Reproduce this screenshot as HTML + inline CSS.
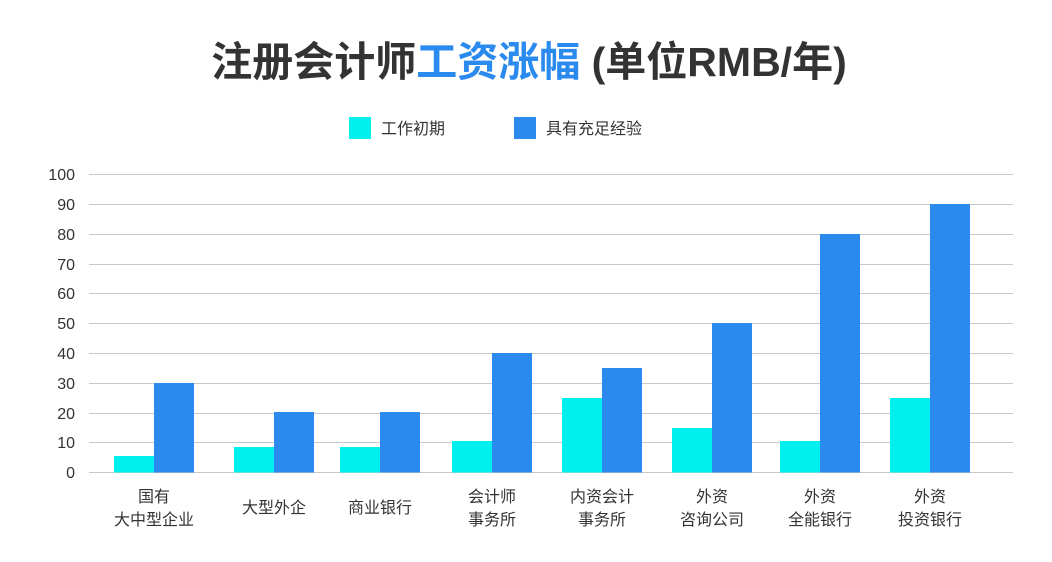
<!DOCTYPE html>
<html><head><meta charset="utf-8"><style>
body{margin:0;background:#fff;width:1052px;height:557px;overflow:hidden}
svg text{font-family:"Liberation Sans","Noto Sans CJK SC",sans-serif}
</style></head><body>
<svg width="1052" height="557" xmlns="http://www.w3.org/2000/svg">
<text x="529" y="76" text-anchor="middle" font-size="41" font-weight="bold" fill="#333"><tspan>注册会计师</tspan><tspan fill="#2b8aed">工资涨幅</tspan><tspan> (单位RMB/年)</tspan></text>
<rect x="349" y="117" width="22" height="22" fill="#00f0f0"/>
<text x="381" y="134" font-size="16" fill="#333">工作初期</text>
<rect x="514" y="117" width="22" height="22" fill="#2b8aed"/>
<text x="546" y="134" font-size="16" fill="#333">具有充足经验</text>
<g stroke="#c8c8c8" stroke-width="1">
<line x1="89" x2="1013" y1="174.5" y2="174.5"/><line x1="89" x2="1013" y1="204.5" y2="204.5"/>
<line x1="89" x2="1013" y1="234.5" y2="234.5"/><line x1="89" x2="1013" y1="264.5" y2="264.5"/>
<line x1="89" x2="1013" y1="293.5" y2="293.5"/><line x1="89" x2="1013" y1="323.5" y2="323.5"/>
<line x1="89" x2="1013" y1="353.5" y2="353.5"/><line x1="89" x2="1013" y1="383.5" y2="383.5"/>
<line x1="89" x2="1013" y1="413.5" y2="413.5"/><line x1="89" x2="1013" y1="442.5" y2="442.5"/>
<line x1="89" x2="1013" y1="472.5" y2="472.5"/>
</g>
<g font-size="16" fill="#333" text-anchor="end">
<text x="75" y="180">100</text><text x="75" y="210">90</text><text x="75" y="240">80</text>
<text x="75" y="270">70</text><text x="75" y="299">60</text><text x="75" y="329">50</text>
<text x="75" y="359">40</text><text x="75" y="389">30</text><text x="75" y="419">20</text>
<text x="75" y="448">10</text><text x="75" y="478">0</text>
</g>
<g fill="#00f0f0">
<rect x="114" y="456" width="40" height="16.5"/>
<rect x="234" y="447" width="40" height="25.5"/>
<rect x="340" y="447" width="40" height="25.5"/>
<rect x="452" y="441" width="40" height="31.5"/>
<rect x="562" y="398" width="40" height="74.5"/>
<rect x="672" y="428" width="40" height="44.5"/>
<rect x="780" y="441" width="40" height="31.5"/>
<rect x="890" y="398" width="40" height="74.5"/>
</g>
<g fill="#2b8aed">
<rect x="154" y="383" width="40" height="89.5"/>
<rect x="274" y="412" width="40" height="60.5"/>
<rect x="380" y="412" width="40" height="60.5"/>
<rect x="492" y="353" width="40" height="119.5"/>
<rect x="602" y="368" width="40" height="104.5"/>
<rect x="712" y="323" width="40" height="149.5"/>
<rect x="820" y="234" width="40" height="238.5"/>
<rect x="930" y="204" width="40" height="268.5"/>
</g>
<g font-size="16" fill="#333" text-anchor="middle">
<text x="154" y="502">国有</text><text x="154" y="525">大中型企业</text>
<text x="274" y="513">大型外企</text>
<text x="380" y="513">商业银行</text>
<text x="492" y="502">会计师</text><text x="492" y="525">事务所</text>
<text x="602" y="502">内资会计</text><text x="602" y="525">事务所</text>
<text x="712" y="502">外资</text><text x="712" y="525">咨询公司</text>
<text x="820" y="502">外资</text><text x="820" y="525">全能银行</text>
<text x="930" y="502">外资</text><text x="930" y="525">投资银行</text>
</g>
</svg>
</body></html>
